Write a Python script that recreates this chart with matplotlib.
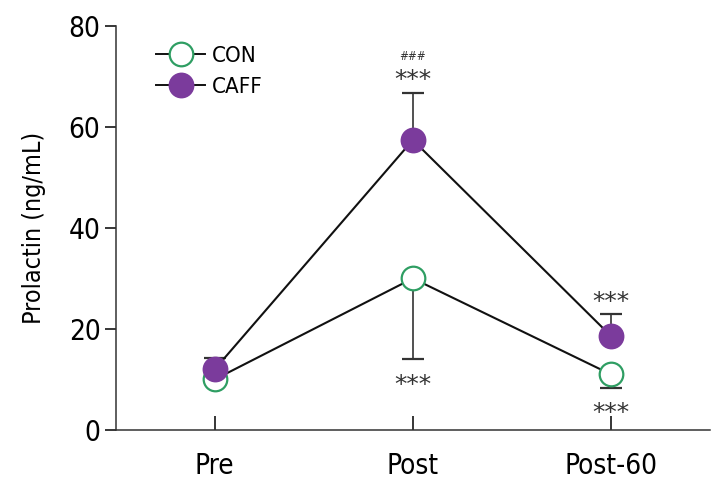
import matplotlib
matplotlib.use("Agg")
import matplotlib.pyplot as plt
from matplotlib.lines import Line2D

# data
phases = ["Pre", "Post", "Post-60"]
con_mean = [10.0, 30.0, 11.0]
con_err_low = [0.0, 16.0, 2.6]
caff_mean = [12.0, 57.4, 18.6]
caff_err_high = [2.2, 9.4, 4.4]

con_marks = ["", "***", "***"]      # below CON
caff_marks = ["", "***", "***"]     # above CAFF
caff_hash = ["", "###", ""]

plt.rcParams["font.family"] = ["DejaVu Sans"]
plt.rcParams["font.stretch"] = "condensed"

green = "#2f9e63"
purple = "#7b3b9c"

fig = plt.figure(figsize=(7.23, 4.88), dpi=100)
ax = fig.add_axes([0.160, 0.119, 0.822, 0.828])

x = list(range(len(phases)))

ax.errorbar(x, con_mean, yerr=[con_err_low, [0] * 3], color="#111111", lw=1.5,
            ecolor="#333333", elinewidth=1.2, capsize=8, capthick=1.2,
            marker="o", ms=17, mfc="white", mec=green, mew=1.6, zorder=3)
ax.errorbar(x, caff_mean, yerr=[[0] * 3, caff_err_high], color="#111111", lw=1.5,
            ecolor="#333333", elinewidth=1.2, capsize=8, capthick=1.2,
            marker="o", ms=17, mfc=purple, mec=purple, mew=1.6, zorder=4)

# significance marks; asterisk glyph sits ~3 units above the baseline
star_kw = dict(ha="center", va="baseline", fontsize=18, fontstretch="normal",
               color="#333333")
for i in x:
    if con_marks[i]:
        ax.text(i, con_mean[i] - con_err_low[i] - 6.4, con_marks[i], **star_kw)
    if caff_marks[i]:
        top = caff_mean[i] + caff_err_high[i]
        ax.text(i, top + 1.0, caff_marks[i], **star_kw)
        if caff_hash[i]:
            ax.text(i, top + 6.4, caff_hash[i], ha="center", va="baseline",
                    fontsize=8.5, style="italic", color="#333333")

ax.set_xlim(-0.5, 2.5)
ax.set_ylim(0, 80)
ax.set_yticks([0, 20, 40, 60, 80])
ax.set_xticks(x)
ax.set_xticklabels(phases)
ax.set_ylabel("Prolactin (ng/mL)", fontsize=18, labelpad=16)

ax.spines["top"].set_visible(False)
ax.spines["right"].set_visible(False)
for s in ["left", "bottom"]:
    ax.spines[s].set_linewidth(1.1)
    ax.spines[s].set_color("#333333")
ax.tick_params(axis="y", direction="out", length=8, width=1.1, labelsize=20, pad=3)
ax.tick_params(axis="x", direction="in", length=10, width=1.1, labelsize=20, pad=16)

handles = [
    Line2D([], [], color="#111111", lw=1.4, marker="o", ms=17, mfc="white", mec=green, mew=1.6),
    Line2D([], [], color="#111111", lw=1.4, marker="o", ms=17, mfc=purple, mec=purple, mew=1.6),
]
ax.legend(handles, ["CON", "CAFF"], loc="upper left", bbox_to_anchor=(0.035, 1.0),
          frameon=False, fontsize=16, handlelength=2.2, handletextpad=0.3,
          labelspacing=0.5)

fig.savefig("out.png", dpi=100)
